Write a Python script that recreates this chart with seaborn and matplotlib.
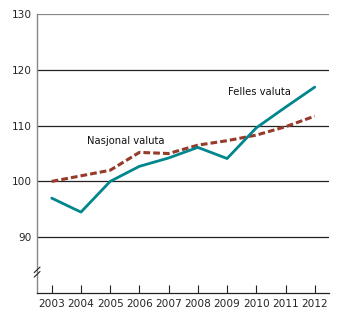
import matplotlib
matplotlib.use("Agg")
import matplotlib.pyplot as plt
import seaborn as sns
import pandas as pd

years = [2003, 2004, 2005, 2006, 2007, 2008, 2009, 2010, 2011, 2012]
felles = [97.0, 94.5, 100.0, 102.7, 104.2, 106.1, 104.1, 109.6, 113.3, 116.9]
nasjonal = [100.0, 101.0, 102.0, 105.2, 105.0, 106.5, 107.3, 108.3, 109.8, 111.7]
yticks = [90, 100, 110, 120, 130]

sns.set_theme(style="white")
plt.rcParams['font.family'] = ['DejaVu Sans']

df = pd.DataFrame({"year": years, "Felles valuta": felles, "Nasjonal valuta": nasjonal})

fig = plt.figure(figsize=(3.5, 3.24), dpi=100)
ax = fig.add_axes([0.106, 0.0957, 0.835, 0.861])

for y in yticks:
    ax.axhline(y, color="#222222" if y != 130 else "#888888", lw=0.9, zorder=1)

sns.lineplot(data=df, x="year", y="Nasjonal valuta", ax=ax, color="#963a2a",
             lw=2.2, linestyle=(0, (2.2, 1.0)), zorder=3)
sns.lineplot(data=df, x="year", y="Felles valuta", ax=ax, color="#00868c",
             lw=2.0, zorder=4)

ax.set_xlim(2002.5, 2012.5)
ax.set_ylim(80, 130)
ax.set_xticks(years)
ax.set_xticklabels([str(y) for y in years], fontsize=7.6)
ax.set_yticks(yticks)
ax.set_yticklabels([str(y) for y in yticks], fontsize=7.6)
ax.set_xlabel("")
ax.set_ylabel("")
ax.tick_params(axis="x", direction="in", length=6, width=0.8, color="#222222", pad=4, bottom=True)
ax.tick_params(axis="y", length=0, pad=4)

for s in ["top", "right"]:
    ax.spines[s].set_visible(False)
ax.spines["left"].set_color("#888888")
ax.spines["left"].set_linewidth(1.0)
ax.spines["bottom"].set_color("#222222")
ax.spines["bottom"].set_linewidth(0.9)

# axis break marks
for dy in (-0.008, 0.008):
    yc = 0.075 + dy
    ax.plot([-0.01, 0.01], [yc - 0.01, yc + 0.01],
            transform=ax.transAxes, color="#222222", lw=0.8, clip_on=False, zorder=5)

ax.text(2005.55, 107.3, "Nasjonal valuta", fontsize=7.2, ha="center", va="center", color="#111111")
ax.text(2010.1, 116.1, "Felles valuta", fontsize=7.2, ha="center", va="center", color="#111111")

fig.savefig("out.png", dpi=100)
